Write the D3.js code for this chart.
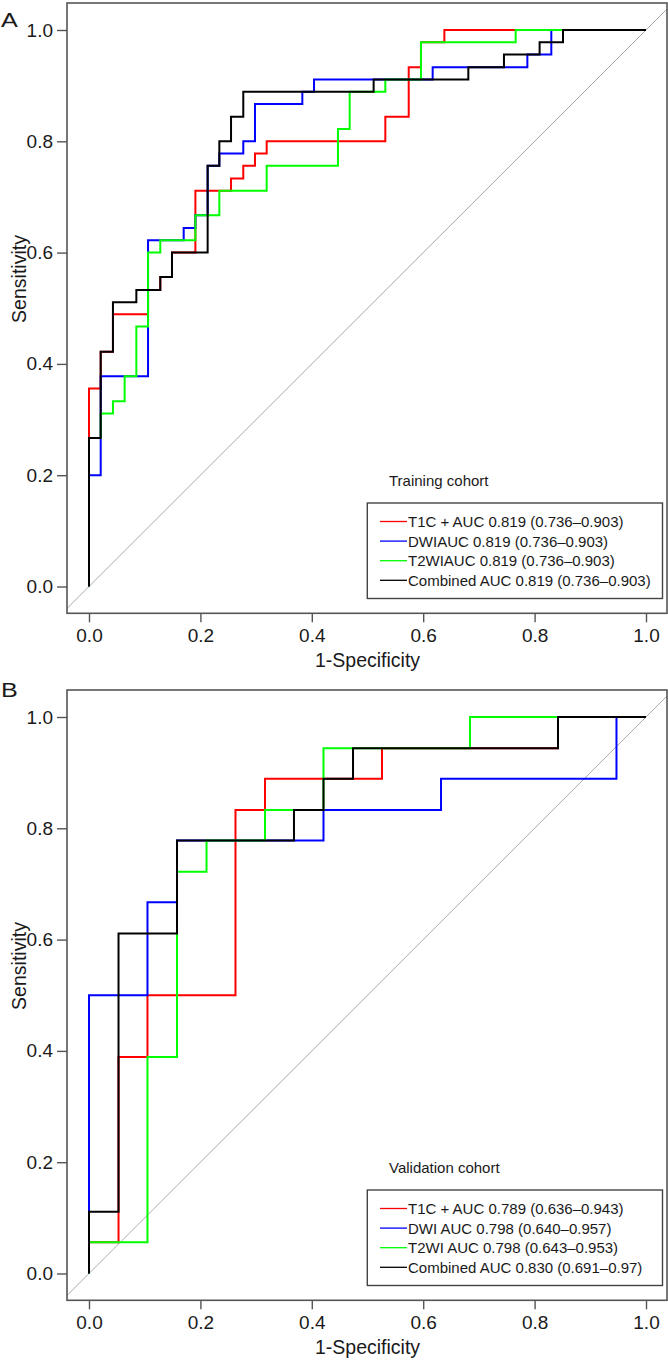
<!DOCTYPE html>
<html><head><meta charset="utf-8">
<script src="https://cdn.jsdelivr.net/npm/d3@7"></script>
<style>
body{margin:0;background:#fff}
svg{display:block}
text{font-family:"Liberation Sans",Arial,Helvetica,sans-serif;fill:#1a1a1a}
</style>
</head><body>
<svg id="chart" width="668" height="1360"></svg>
<script>
// ---------- data ----------
const seriesColors = ["#ff0000", "#0000ff", "#00ff00", "#000000"];
const tickValues = [0, 0.2, 0.4, 0.6, 0.8, 1.0];
const tickLabels = ["0.0", "0.2", "0.4", "0.6", "0.8", "1.0"];

// Training cohort (ROC vertices: 1-specificity, sensitivity)
const trainT1cFpr = [0, 0, 0.021, 0.043, 0.106, 0.128, 0.149, 0.191, 0.255, 0.277, 0.298, 0.319, 0.532, 0.574, 0.596, 0.638, 1];
const trainT1cTpr = [0, 0.356, 0.422, 0.489, 0.533, 0.556, 0.600, 0.711, 0.733, 0.756, 0.778, 0.800, 0.844, 0.933, 0.978, 1, 1];
const trainDwiFpr = [0, 0, 0.021, 0.106, 0.170, 0.191, 0.213, 0.234, 0.277, 0.298, 0.383, 0.404, 0.617, 0.787, 0.830, 1];
const trainDwiTpr = [0, 0.200, 0.378, 0.622, 0.644, 0.667, 0.756, 0.778, 0.800, 0.867, 0.889, 0.911, 0.933, 0.956, 1, 1];
const trainT2wiFpr = [0, 0, 0.021, 0.043, 0.064, 0.085, 0.106, 0.128, 0.191, 0.234, 0.319, 0.447, 0.468, 0.532, 0.596, 0.766, 1];
const trainT2wiTpr = [0, 0.267, 0.311, 0.333, 0.378, 0.467, 0.600, 0.622, 0.667, 0.711, 0.756, 0.822, 0.889, 0.911, 0.978, 1, 1];
const trainCombFpr = [0, 0, 0.021, 0.043, 0.085, 0.128, 0.149, 0.213, 0.234, 0.255, 0.277, 0.511, 0.681, 0.745, 0.809, 0.851, 1];
const trainCombTpr = [0, 0.267, 0.422, 0.511, 0.533, 0.556, 0.600, 0.756, 0.800, 0.844, 0.889, 0.911, 0.933, 0.956, 0.978, 1, 1];
const trainLegend = ["T1C + AUC 0.819 (0.736\u20130.903)", "DWIAUC 0.819 (0.736\u20130.903)", "T2WIAUC 0.819 (0.736\u20130.903)", "Combined AUC 0.819 (0.736\u20130.903)"];

// Validation cohort
const validT1cFpr = [0, 0, 0.053, 0.105, 0.263, 0.316, 0.526, 0.842, 1];
const validT1cTpr = [0, 0.056, 0.389, 0.500, 0.833, 0.889, 0.944, 1, 1];
const validDwiFpr = [0, 0, 0.105, 0.158, 0.421, 0.632, 0.947, 1];
const validDwiTpr = [0, 0.500, 0.667, 0.778, 0.833, 0.889, 1, 1];
const validT2wiFpr = [0, 0, 0.105, 0.158, 0.211, 0.316, 0.421, 0.684, 1];
const validT2wiTpr = [0, 0.056, 0.389, 0.722, 0.778, 0.833, 0.944, 1, 1];
const validCombFpr = [0, 0, 0.053, 0.158, 0.368, 0.421, 0.474, 0.842, 1];
const validCombTpr = [0, 0.111, 0.611, 0.778, 0.833, 0.889, 0.944, 1, 1];
const validLegend = ["T1C + AUC 0.789 (0.636\u20130.943)", "DWI AUC 0.798 (0.640\u20130.957)", "T2WI AUC 0.798 (0.643\u20130.953)", "Combined AUC 0.830 (0.691\u20130.97)"];

const panels = [
  {letter: "A", letterY: 26.5, top: 0, title: "Training cohort",
   series: [[trainT1cFpr, trainT1cTpr], [trainDwiFpr, trainDwiTpr], [trainT2wiFpr, trainT2wiTpr], [trainCombFpr, trainCombTpr]],
   legend: trainLegend},
  {letter: "B", letterY: 9.5, top: 687, title: "Validation cohort",
   series: [[validT1cFpr, validT1cTpr], [validDwiFpr, validDwiTpr], [validT2wiFpr, validT2wiTpr], [validCombFpr, validCombTpr]],
   legend: validLegend}
];

// ---------- drawing ----------
const svg = d3.select("#chart");
const frame = {left: 67, right: 667, top: 3, bottom: 613.3};

panels.forEach((p, pi) => {
  const g = svg.append("g").attr("transform", `translate(0,${p.top})`);
  const x = d3.scaleLinear().domain([0, 1]).range([89, 646]);
  const y = d3.scaleLinear().domain([0, 1]).range([586.5, 30]);

  const clipId = "clip" + pi;
  g.append("clipPath").attr("id", clipId).append("rect")
    .attr("x", frame.left).attr("y", frame.top)
    .attr("width", frame.right - frame.left).attr("height", frame.bottom - frame.top);

  // diagonal reference line
  const x0 = x.invert(frame.left), x1 = x.invert(frame.right);
  g.append("line").attr("clip-path", `url(#${clipId})`)
    .attr("x1", x(x0 - 0.1)).attr("y1", y(x0 - 0.1))
    .attr("x2", x(x1 + 0.1)).attr("y2", y(x1 + 0.1))
    .attr("stroke", "#a8a8a8").attr("stroke-width", 1);

  // ROC curves
  const line = d3.line().x(d => x(d[0])).y(d => y(d[1])).curve(d3.curveStepAfter);
  p.series.forEach((s, i) => {
    const pts = s[0].map((v, k) => [v, s[1][k]]);
    g.append("path").datum(pts).attr("d", line)
      .attr("fill", "none").attr("stroke", seriesColors[i])
      .attr("stroke-width", 2).attr("stroke-linejoin", "miter");
  });

  // frame
  g.append("rect").attr("x", frame.left).attr("y", frame.top)
    .attr("width", frame.right - frame.left).attr("height", frame.bottom - frame.top)
    .attr("fill", "none").attr("stroke", "#555").attr("stroke-width", 1.6);

  // axes
  const xAxis = d3.axisBottom(x).tickValues(tickValues).tickFormat((d, i) => tickLabels[i]).tickSize(9).tickPadding(6);
  const xg = g.append("g").attr("transform", `translate(0,${frame.bottom})`).call(xAxis);
  xg.select(".domain").remove();
  xg.selectAll(".tick line").attr("stroke", "#555").attr("stroke-width", 1.4);
  xg.selectAll(".tick text").attr("font-size", 19).attr("font-family", null).attr("fill", "#1a1a1a");

  const yAxis = d3.axisLeft(y).tickValues(tickValues).tickFormat((d, i) => tickLabels[i]).tickSize(10).tickPadding(4);
  const yg = g.append("g").attr("transform", `translate(${frame.left},0)`).call(yAxis);
  yg.select(".domain").remove();
  yg.selectAll(".tick line").attr("stroke", "#555").attr("stroke-width", 1.4);
  yg.selectAll(".tick text").attr("font-size", 19).attr("font-family", null).attr("fill", "#1a1a1a");

  // axis titles
  g.append("text").attr("x", (x(0) + x(1)) / 2).attr("y", 667).attr("text-anchor", "middle")
    .attr("font-size", 19.5).text("1-Specificity");
  g.append("text").attr("transform", `translate(26,279) rotate(-90)`).attr("text-anchor", "middle")
    .attr("font-size", 19.5).text("Sensitivity");

  // panel letter
  g.append("text").attr("transform", `translate(1,${p.letterY}) scale(1.2,1)`)
    .attr("font-size", 21).text(p.letter);

  // legend
  g.append("text").attr("x", 389).attr("y", 486).attr("font-size", 15).text(p.title);
  const lg = g.append("g");
  lg.append("rect").attr("x", 367.3).attr("y", 503).attr("width", 295.2).attr("height", 95.5)
    .attr("fill", "#fff").attr("stroke", "#444").attr("stroke-width", 1.4);
  p.legend.forEach((t, i) => {
    const cy = 521.5 + i * 19.6;
    lg.append("line").attr("x1", 380).attr("x2", 407).attr("y1", cy).attr("y2", cy)
      .attr("stroke", seriesColors[i]).attr("stroke-width", 1.3);
    lg.append("text").attr("x", 408).attr("y", cy).attr("dy", "0.36em")
      .attr("font-size", 15).text(t);
  });
});
</script>
</body></html>
